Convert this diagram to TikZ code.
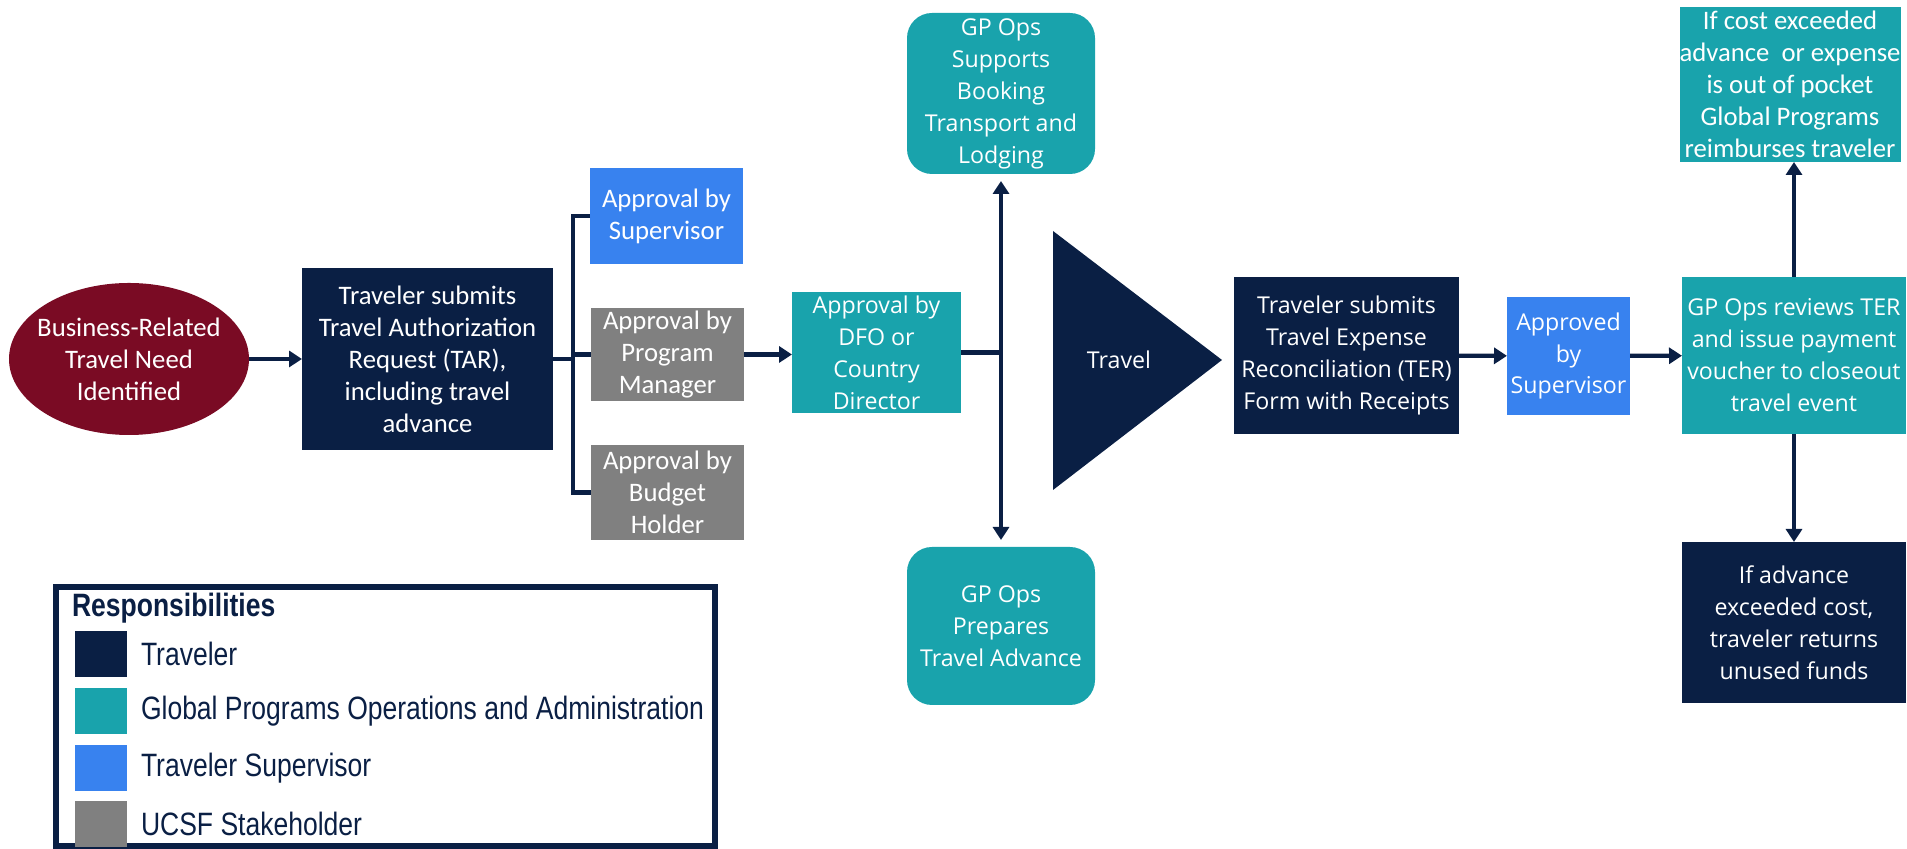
\documentclass[tikz,border=0pt]{standalone}
\usepackage{fontspec}
\setmainfont{Carlito}
\newfontfamily\segfont{Open Sans}
\newfontfamily\narrowfont[FakeStretch=0.82]{Liberation Sans}
\usetikzlibrary{arrows.meta,shapes.geometric}
\definecolor{navy}{HTML}{0A1F44}
\definecolor{maroon}{HTML}{7A0B24}
\definecolor{gpteal}{HTML}{19A3AC}
\definecolor{supblue}{HTML}{3882EF}
\definecolor{stkgray}{HTML}{808080}

\begin{document}
\begin{tikzpicture}[every node/.style={text=white, align=center, inner sep=0pt, outer sep=0pt, font=\fontsize{7.6}{9.1}\selectfont},
  seg/.style={font=\segfont\fontsize{6.6}{9.1}\selectfont},
  link/.style={draw=navy, line width=1.2pt},
  go/.style={link, -{Triangle[length=0.13cm,width=0.16cm]}},
  key/.style={text=navy, anchor=west, font=\narrowfont\fontsize{9.2}{10}\selectfont}]
\useasboundingbox (0,0) rectangle (19.07,8.49);

\node[ellipse, fill=maroon, inner xsep=-0.3cm, inner ysep=-0.15cm, minimum width=2.40cm, minimum height=1.52cm] (need) at (1.29,4.90) {Business-Related\\Travel Need\\Identified};
\node[fill=navy, minimum width=2.51cm, minimum height=1.82cm] (tar) at (4.275,4.90) {Traveler submits\\Travel Authorization\\Request (TAR),\\including travel\\advance};
\node[fill=supblue, minimum width=1.53cm, minimum height=0.96cm] (sup) at (6.665,6.33) {Approval by\\Supervisor};
\node[fill=stkgray, minimum width=1.53cm, minimum height=0.93cm] (pm) at (6.675,4.945) {Approval by\\Program\\Manager};
\node[fill=stkgray, minimum width=1.53cm, minimum height=0.95cm] (bud) at (6.675,3.565) {Approval by\\Budget\\Holder};
\node[fill=gpteal, seg, minimum width=1.69cm, minimum height=1.21cm] (dfo) at (8.765,4.965) {Approval by\\DFO or\\Country\\Director};

\node[fill=gpteal, seg, rounded corners=0.25cm, minimum width=1.88cm, minimum height=1.61cm] (book) at (10.01,7.555) {GP Ops\\Supports\\Booking\\Transport and\\Lodging};
\node[fill=gpteal, seg, rounded corners=0.25cm, minimum width=1.88cm, minimum height=1.58cm] (adv) at (10.01,2.23) {GP Ops\\Prepares\\Travel Advance};

\fill[navy] (10.53,6.18) -- (12.22,4.89) -- (10.53,3.59) -- cycle;
\node[seg] (travel) at (11.19,4.89) {Travel};

\node[fill=navy, seg, minimum width=2.25cm, minimum height=1.57cm] (ter) at (13.465,4.935) {Traveler submits\\Travel Expense\\Reconciliation (TER)\\Form with Receipts};
\node[fill=supblue, seg, minimum width=1.23cm, minimum height=1.18cm] (appr) at (15.685,4.93) {Approved\\by\\Supervisor};
\node[fill=gpteal, seg, minimum width=2.24cm, minimum height=1.57cm] (rev) at (17.94,4.935) {GP Ops reviews TER\\and issue payment\\voucher to closeout\\travel event};
\node[fill=gpteal, minimum width=2.20cm, minimum height=1.55cm] (pay) at (17.90,7.645) {If cost exceeded\\advance\ \ or expense\\is out of pocket\\Global Programs\\reimburses traveler};
\node[fill=navy, seg, minimum width=2.24cm, minimum height=1.61cm] (ret) at (17.94,2.265) {If advance\\exceeded cost,\\traveler returns\\unused funds};

\draw[go] (need) -- (tar);
\draw[link] (tar.east) -- ++(0.2,0) coordinate (fork);
\draw[link] (sup.west) -| (fork) |- (bud.west);
\draw[link] (fork |- pm.west) -- (pm.west);
\draw[go] (pm.east) -- (pm.east -| dfo.west);
\draw[link] (dfo.east) -- (dfo.east -| book.south) coordinate (hub);
\draw[go] (hub) -- ([yshift=-0.07cm]book.south);
\draw[go] (hub) -- ([yshift=0.07cm]adv.north);
\draw[go] (ter) -- (appr);
\draw[go] (appr) -- (rev);
\draw[go] (rev.north) -- (rev.north |- pay.south);
\draw[go] (rev.south) -- (ret.north);

\node[draw=navy, line width=1.5pt, minimum width=6.59cm, minimum height=2.59cm] (legend) at (3.855,1.325) {};
\node[key, font=\narrowfont\bfseries\fontsize{9.2}{10}\selectfont] (title) at (0.72,2.41) {Responsibilities};
\node[fill=navy, minimum width=0.52cm, minimum height=0.46cm] (swtrav) at (1.01,1.95) {};
\node[fill=gpteal, minimum width=0.52cm, minimum height=0.46cm] (swops) at (1.01,1.38) {};
\node[fill=supblue, minimum width=0.52cm, minimum height=0.46cm] (swsup) at (1.01,0.81) {};
\node[fill=stkgray, minimum width=0.52cm, minimum height=0.46cm] (swstk) at (1.01,0.25) {};
\node[key] (ltrav) at (1.41,1.95) {Traveler};
\node[key] (lops) at (1.41,1.38) {Global Programs Operations and Administration};
\node[key] (lsup) at (1.41,0.81) {Traveler Supervisor};
\node[key] (lstk) at (1.41,0.25) {UCSF Stakeholder};
\end{tikzpicture}
\end{document}
